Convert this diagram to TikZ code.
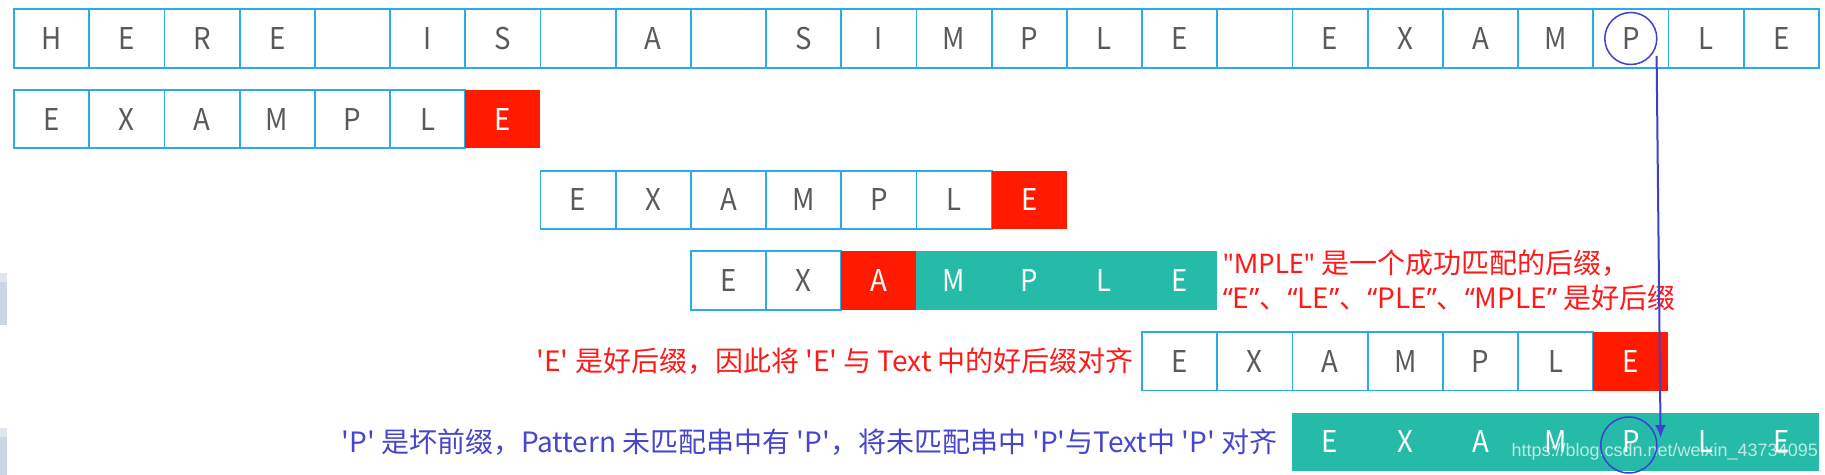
\documentclass[tikz,border=0pt]{standalone}
\usepackage{fontspec}
\usepackage{graphicx}
\newfontfamily\cjk{Noto Sans CJK SC}
\newfontfamily\latinf{Noto Sans}
\newfontfamily\wmfont{Liberation Sans}
\usetikzlibrary{arrows.meta,calc}
\definecolor{cellblue}{HTML}{2AABEA}
\definecolor{hired}{HTML}{FF1A00}
\definecolor{tealc}{HTML}{26BBA8}
\definecolor{lettergrey}{HTML}{5A5A5A}
\definecolor{txtred}{HTML}{FF1A1A}
\definecolor{txtblue}{HTML}{4646CC}
\definecolor{markblue}{HTML}{4040D0}
\definecolor{sidegrey}{HTML}{CBD5E3}
\newcommand{\ltr}[1]{\scalebox{0.92}[1]{#1}}
\newcommand{\qo}{{\latinf “}}
\newcommand{\qc}{{\latinf ”}}
\begin{document}
\begin{tikzpicture}[x=1bp,y=-1bp,
  cell/.style={draw=cellblue,line width=1.8bp,fill=white,minimum width=75.2bp,minimum height=58.4bp,inner sep=0pt,text=lettergrey,font=\cjk\fontsize{30bp}{30bp}\selectfont},
  redcell/.style={cell,draw=none,fill=hired,text=white},
  tealcell/.style={cell,draw=none,fill=tealc,text=white},
  ringmark/.style={circle,draw=markblue,line width=1.5bp,inner sep=0pt},
  ann/.style={inner sep=0pt,font=\cjk\fontsize{28bp}{35bp}\selectfont}]
\useasboundingbox (0,0) rectangle (1825,475);
\fill[white] (0,0) rectangle (1825,475);
% side artefacts
\fill[sidegrey] (0,273) rectangle (7,325);
\fill[sidegrey!60!white] (0,273) rectangle (7,282);
\fill[sidegrey] (0,428) rectangle (7,475);
\fill[sidegrey!60!white] (0,428) rectangle (7,437);
% text row
\foreach \c [count=\i from 0] in {H,E,R,E,{},I,S,{},A,{},S,I,M,P,L,E,{},E,X,A,M,P,L,E}
  \node[cell] (t\i) at ({51.6+75.2*\i},38.5) {\ltr{\c}};
% pattern rows
\foreach \c/\s [count=\i from 0] in {E/cell,X/cell,A/cell,M/cell,P/cell,L/cell,E/redcell}
  \node[\s] (b\i) at ({51.6+75.2*\i},119.2) {\ltr{\c}};
\foreach \c/\s [count=\i from 0] in {E/cell,X/cell,A/cell,M/cell,P/cell,L/cell,E/redcell}
  \node[\s] (c\i) at ({51.6+75.2*(\i+7)},199.9) {\ltr{\c}};
\foreach \c/\s [count=\i from 0] in {E/cell,X/cell,A/redcell,M/tealcell,P/tealcell,L/tealcell,E/tealcell}
  \node[\s] (d\i) at ({51.6+75.2*(\i+9)},280.6) {\ltr{\c}};
\foreach \c/\s [count=\i from 0] in {E/cell,X/cell,A/cell,M/cell,P/cell,L/cell,E/redcell}
  \node[\s] (e\i) at ({51.6+75.2*(\i+15)},361.3) {\ltr{\c}};
\foreach \c/\s [count=\i from 0] in {E/tealcell,X/tealcell,A/tealcell,M/tealcell,P/tealcell,L/tealcell,E/tealcell}
  \node[\s] (f\i) at ({51.6+75.2*(\i+17)},442) {\ltr{\c}};
% annotations
\node[ann,anchor=west,align=left,text=txtred] (n1) at ([xshift=4.6bp]d6.east)
  {{\latinf\fontsize{27bp}{35bp}\selectfont "MPLE"} 是一个成功匹配的后缀，\\\qo E\qc、\qo LE\qc、\qo PLE\qc、\qo MPLE\qc\ 是好后缀};
\node[ann,anchor=east,text=txtred] (n2) at ([xshift=-7bp]e0.west)
  {'E' 是好后缀，因此将 'E' 与 Text 中的好后缀对齐};
\node[ann,anchor=east,text=txtblue] (n3) at ([xshift=-14bp]f0.west)
  {'P' 是坏前缀，Pattern 未匹配串中有 'P'，将未匹配串中 'P'与Text中 'P' 对齐};
% watermark
\node[anchor=east,inner sep=0pt,text=white,opacity=0.7,font=\wmfont\fontsize{18bp}{18bp}\selectfont] (wm) at (1818,452) {https://blog.csdn.net/weixin\_43734095};
% marks and arrow
\node[ringmark,minimum size=52bp] (m1) at (t21.center) {};
\node[ringmark,minimum size=56bp] (m2) at ([shift={(-2,3)}]f4.center) {};
\draw[markblue,line width=2bp,-{Latex[length=13bp,width=11bp]}] ([shift={(25.8,17.5)}]m1.center) -- ([shift={(31.8,-7)}]m2.center);
\end{tikzpicture}
\end{document}
